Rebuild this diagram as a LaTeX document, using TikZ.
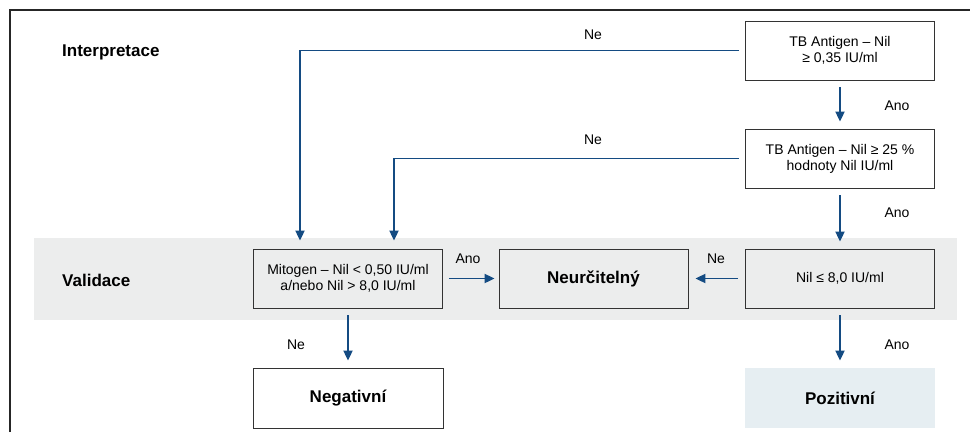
\documentclass[tikz,border=0pt]{standalone}
\usepackage{fontspec}
\setmainfont{Liberation Sans}
\usetikzlibrary{arrows.meta}
\definecolor{flowblue}{RGB}{20,75,130}
\definecolor{bandgray}{RGB}{236,237,237}
\definecolor{posblue}{RGB}{230,238,242}
\begin{document}
\begin{tikzpicture}[x=1pt,y=-1pt,
    box_node/.style={draw=black!80,line width=0.8pt,minimum width=189pt,minimum height=59pt,align=center,inner sep=2pt,font=\fontsize{14}{16}\selectfont},
    end_node/.style={box_node,font=\fontsize{17}{20}\selectfont\bfseries},
    label_node/.style={inner sep=0pt,font=\fontsize{14}{16}\selectfont},
    head_node/.style={inner sep=0pt,anchor=west,font=\fontsize{17}{20}\selectfont\bfseries},
    arrow_line/.style={draw=flowblue,line width=1.8pt,-{Triangle[length=10pt,width=9pt]},shorten <=7pt,shorten >=7pt}]
    \useasboundingbox (0,0) rectangle (970,432);
    \fill[bandgray] (34,238) rectangle (957,320);
    \draw[line width=2pt,black!85] (10,432) -- (10,10) -- (970,10);
    \node[head_node] (h1) at (62,52) {Interpretace};
    \node[head_node] (h2) at (62,280) {Validace};
    \node[box_node] (1) at (840,50.5) {TB Antigen – Nil\\≥ 0,35 IU/ml};
    \node[box_node] (2) at (840,158.5) {TB Antigen – Nil ≥ 25 \%\\hodnoty Nil IU/ml};
    \node[box_node] (3) at (348,278.5) {Mitogen – Nil < 0,50 IU/ml\\a/nebo Nil > 8,0 IU/ml};
    \node[end_node,fill=bandgray] (4) at (593.5,278.5) {Neurčitelný};
    \node[box_node] (5) at (840,278.5) {Nil ≤ 8,0 IU/ml};
    \node[end_node,minimum width=190pt,minimum height=60pt] (6) at (348,398) {Negativní};
    \node[end_node,draw=none,fill=posblue,minimum width=190pt,minimum height=60pt] (7) at (840,398) {Pozitivní};
    \node[label_node] (l1) at (593,35) {Ne};
    \node[label_node] (l2) at (897,106) {Ano};
    \node[label_node] (l3) at (593,140) {Ne};
    \node[label_node] (l4) at (897,213) {Ano};
    \node[label_node] (l5) at (468,259) {Ano};
    \node[label_node] (l6) at (716,259) {Ne};
    \node[label_node] (l7) at (296,345) {Ne};
    \node[label_node] (l8) at (897,345) {Ano};
    \draw[arrow_line] (1) -- (2);
    \draw[arrow_line] (2) -- (5);
    \draw[arrow_line] (5) -- (7);
    \draw[arrow_line] (5) -- (4);
    \draw[arrow_line,shorten <=6pt,shorten >=4pt] (3) -- (4);
    \draw[arrow_line] (3) -- (6);
    \draw[arrow_line,shorten <=6pt,shorten >=8pt] (1.west) -| ([xshift=-48pt]3.north);
    \draw[arrow_line,shorten <=6pt,shorten >=8pt] (2.west) -| ([xshift=46pt]3.north);
\end{tikzpicture}
\end{document}
